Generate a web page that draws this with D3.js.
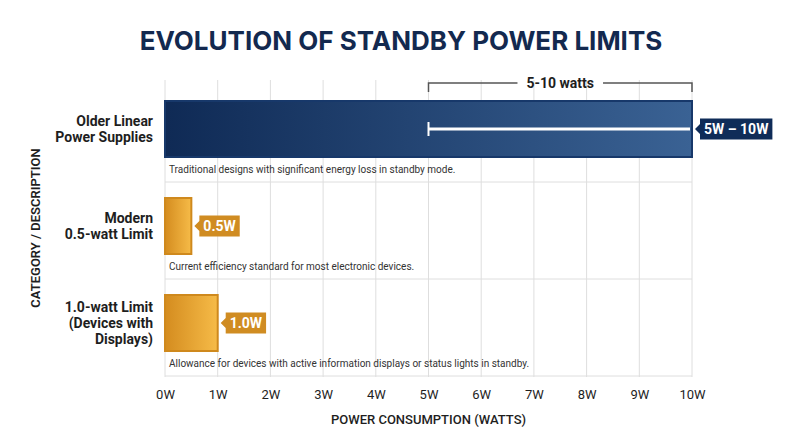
<!DOCTYPE html>
<html>
<head>
<meta charset="utf-8">
<script src="https://cdn.jsdelivr.net/npm/d3@7"></script>
<style>
  body { margin: 0; background: #fff; }
  svg { display: block; font-family: Roboto, "Open Sans", sans-serif; }
</style>
</head>
<body>
<svg id="chart" width="800" height="447"></svg>
<script>
/// data ///
const categories = ["Older Linear Power Supplies", "Modern 0.5-watt Limit", "1.0-watt Limit (Devices with Displays)"];
const categoryLines = [["Older Linear", "Power Supplies"], ["Modern", "0.5-watt Limit"], ["1.0-watt Limit", "(Devices with", "Displays)"]];
const values = [10, 0.5, 1.0];
const rangeLow = [5, null, null];
const valueLabels = ["5W \u2013 10W", "0.5W", "1.0W"];
const descriptions = [
  "Traditional designs with significant energy loss in standby mode.",
  "Current efficiency standard for most electronic devices.",
  "Allowance for devices with active information displays or status lights in standby."
];
const xTicks = [0, 1, 2, 3, 4, 5, 6, 7, 8, 9, 10];
const bracketRange = [5, 10];
const bracketLabel = "5-10 watts";

/// constants ///
const width = 800, height = 447;
const margin = {top: 85, bottom: 71, left: 165, right: 108};
const navyDark = "#0f2a55", navyLight = "#3a6294";
const goldDark = "#d48c1f", goldLight = "#f6bb48";
const gridColour = "#dedede";
const textColour = "#1e1e1e";

const svg = d3.select("#chart");
const defs = svg.append("defs");

// gradients for the bars
function gradient(id, from, to) {
  const g = defs.append("linearGradient").attr("id", id).attr("x1", "0%").attr("x2", "100%");
  g.append("stop").attr("offset", "0%").attr("stop-color", from);
  g.append("stop").attr("offset", "100%").attr("stop-color", to);
}
gradient("navyGrad", navyDark, navyLight);
gradient("goldGrad", goldDark, goldLight);

/// scales ///
const xScale = d3.scaleLinear().domain([0, 10]).range([margin.left, width - margin.right]);
const yScale = d3.scaleBand().domain(categories).range([margin.top, height - margin.bottom]);
const row = yScale.bandwidth();
const barOffset = 16, barHeight = 56;

/// title ///
svg.append("text")
  .attr("x", 401).attr("y", 50)
  .attr("text-anchor", "middle")
  .attr("font-family", "Inter, 'Open Sans', sans-serif")
  .attr("font-weight", 700)
  .attr("font-size", "26px")
  .attr("fill", "#13294f")
  .text("EVOLUTION OF STANDBY POWER LIMITS");

/// grid ///
const grid = svg.append("g");
grid.selectAll(".vline")
  .data(xTicks)
  .join("line")
  .attr("x1", d => xScale(d)).attr("x2", d => xScale(d))
  .attr("y1", margin.top - 5).attr("y2", height - margin.bottom + 1)
  .attr("stroke", gridColour).attr("stroke-width", 1);
grid.selectAll(".hline")
  .data(categories)
  .join("line")
  .attr("x1", xScale(0)).attr("x2", xScale(10))
  .attr("y1", d => yScale(d) + row).attr("y2", d => yScale(d) + row)
  .attr("stroke", gridColour).attr("stroke-width", 1);

/// bars ///
const rows = svg.selectAll(".row")
  .data(categories)
  .join("g")
  .attr("transform", d => `translate(0, ${yScale(d)})`);

rows.append("rect")
  .attr("x", xScale(0))
  .attr("y", barOffset)
  .attr("width", (d, i) => xScale(values[i]) - xScale(0))
  .attr("height", barHeight)
  .attr("fill", (d, i) => i === 0 ? "url(#navyGrad)" : "url(#goldGrad)")
  .attr("stroke", (d, i) => i === 0 ? "#17386a" : "#cf891d")
  .attr("stroke-width", 2);

// descriptions under each bar (squeezed a little, the original uses a condensed face)
rows.append("text")
  .attr("x", xScale(0) + 4)
  .attr("y", barOffset + barHeight + 16)
  .attr("font-size", "11.5px")
  .attr("fill", "#333")
  .text((d, i) => descriptions[i])
  .each(function() {
    const w = this.getComputedTextLength();
    d3.select(this).attr("textLength", w * 0.87).attr("lengthAdjust", "spacingAndGlyphs");
  });

// category labels
rows.append("text")
  .attr("text-anchor", "end")
  .attr("font-size", "14px")
  .attr("font-weight", 700)
  .attr("fill", textColour)
  .each(function(d, i) {
    const lines = categoryLines[i];
    const mid = barOffset + barHeight / 2;
    d3.select(this).selectAll("tspan")
      .data(lines)
      .join("tspan")
      .attr("x", 153)
      .attr("y", (l, j) => mid + (j - (lines.length - 1) / 2) * 16 + 5)
      .text(l => l);
  });

// range whisker for first bar
rows.filter((d, i) => rangeLow[i] != null).each(function(d) {
  const i = categories.indexOf(d);
  const g = d3.select(this);
  const cy = barOffset + barHeight / 2;
  g.append("line")
    .attr("x1", xScale(rangeLow[i])).attr("x2", xScale(values[i]) - 2)
    .attr("y1", cy).attr("y2", cy)
    .attr("stroke", "#fff").attr("stroke-width", 3);
  g.append("line")
    .attr("x1", xScale(rangeLow[i])).attr("x2", xScale(rangeLow[i]))
    .attr("y1", cy - 7).attr("y2", cy + 7)
    .attr("stroke", "#fff").attr("stroke-width", 2);
});

// value callouts
rows.each(function(d, i) {
  const g = d3.select(this);
  const cy = barOffset + barHeight / 2;
  const x0 = xScale(values[i]) + 8;
  const fill = i === 0 ? "#0f2c58" : "#d08c22";
  const txt = g.append("text")
    .attr("x", x0 + 4).attr("y", cy + 5)
    .attr("font-size", "14px")
    .attr("font-weight", 700)
    .attr("fill", "#fff")
    .text(valueLabels[i]);
  const w = txt.node().getComputedTextLength() + 8;
  const h = 21;
  g.append("path")
    .attr("d", `M${x0 - 5},${cy} L${x0},${cy - 5} L${x0},${cy - h / 2} L${x0 + w},${cy - h / 2} L${x0 + w},${cy + h / 2} L${x0},${cy + h / 2} L${x0},${cy + 5} Z`)
    .attr("fill", fill);
  txt.raise();
});

/// bracket over 5-10 W ///
const bx0 = xScale(bracketRange[0]), bx1 = xScale(bracketRange[1]);
const by = 83;
const bmid = (bx0 + bx1) / 2;
const bracketText = svg.append("text")
  .attr("x", bmid).attr("y", by + 5)
  .attr("text-anchor", "middle")
  .attr("font-size", "14px")
  .attr("font-weight", 700)
  .attr("fill", textColour)
  .text(bracketLabel);
const half = bracketText.node().getComputedTextLength() / 2 + 9;
svg.append("path")
  .attr("d", `M${bx0},${by + 9} V${by} H${bmid - half} M${bmid + half},${by} H${bx1} V${by + 9}`)
  .attr("fill", "none")
  .attr("stroke", "#555")
  .attr("stroke-width", 1.5);

/// x axis ///
svg.append("g")
  .attr("transform", `translate(0, ${height - margin.bottom + 5})`)
  .call(d3.axisBottom(xScale).tickValues(xTicks).tickFormat(d => d + "W").tickSize(0).tickPadding(9))
  .call(g => g.select(".domain").remove())
  .call(g => g.selectAll("text")
    .attr("font-family", "Roboto, sans-serif")
    .attr("font-size", "13px")
    .attr("fill", textColour));

svg.append("text")
  .attr("x", xScale(5)).attr("y", 424)
  .attr("text-anchor", "middle")
  .attr("font-size", "13px")
  .attr("font-weight", 500)
  .attr("fill", textColour)
  .text("POWER CONSUMPTION (WATTS)");

/// y axis title ///
svg.append("text")
  .attr("transform", "translate(40, 228) rotate(-90)")
  .attr("text-anchor", "middle")
  .attr("font-size", "13px")
  .attr("font-weight", 600)
  .attr("fill", textColour)
  .text("CATEGORY / DESCRIPTION");
</script>
</body>
</html>
